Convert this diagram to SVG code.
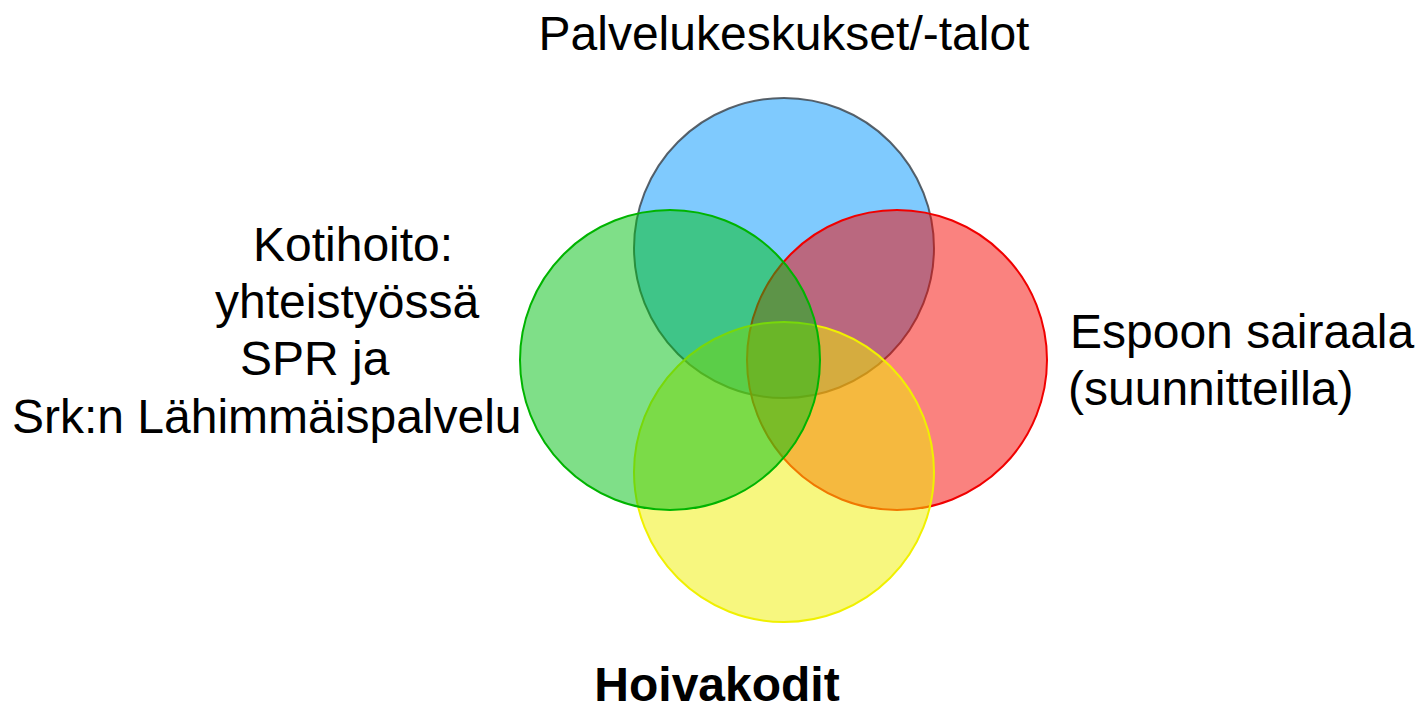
<svg xmlns="http://www.w3.org/2000/svg" width="1416" height="710" viewBox="0 0 1416 710">
<style>
.lbl{font-family:"Liberation Sans",Arial,sans-serif;font-size:48px;fill:#000}
.b{font-weight:bold}
circle{stroke-width:2}
</style>
<rect width="1416" height="710" fill="#fff"/>
<g id="blue"><circle cx="784" cy="248" r="150" fill="#0095FD" fill-opacity="0.5" stroke="#404850" stroke-opacity="0.85"/></g>
<g id="red"><circle cx="897" cy="360" r="150" fill="#F50500" fill-opacity="0.5" stroke="#F00000"/></g>
<g id="yellow"><circle cx="784" cy="472" r="150" fill="#EFEF00" fill-opacity="0.5" stroke="#F0F000"/></g>
<g id="green"><circle cx="670" cy="360" r="150" fill="#00BF11" fill-opacity="0.5" stroke="#00B400"/></g>
<g id="labels">
<text class="lbl" x="784" y="50" text-anchor="middle">Palvelukeskukset/-talot</text>
<text class="lbl" x="253" y="261">Kotihoito:</text>
<text class="lbl" x="215" y="318">yhteistyössä</text>
<text class="lbl" x="240" y="375">SPR ja</text>
<text class="lbl" x="12" y="433">Srk:n Lähimmäispalvelu</text>
<text class="lbl" x="1070" y="348">Espoon sairaala</text>
<text class="lbl" x="1068" y="405">(suunnitteilla)</text>
<text class="lbl b" x="717" y="701" text-anchor="middle">Hoivakodit</text>
</g>
</svg>
